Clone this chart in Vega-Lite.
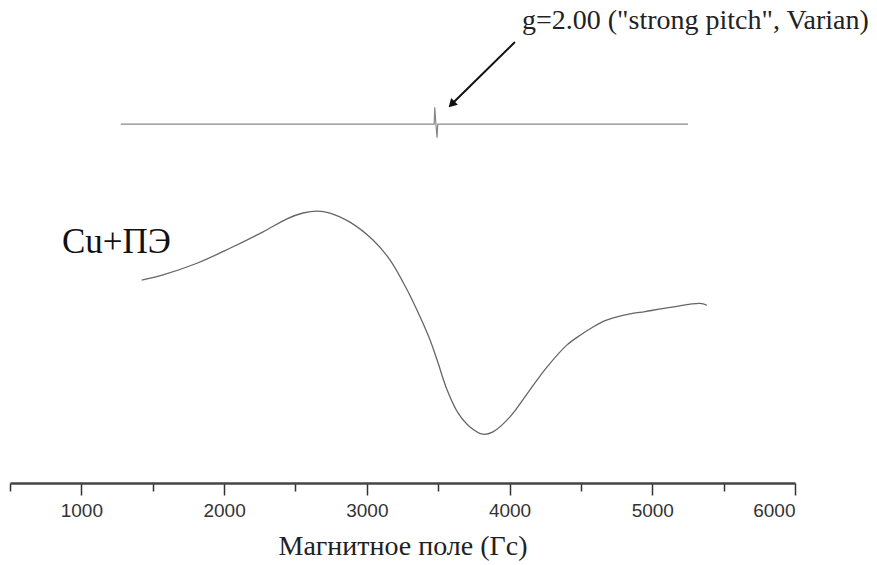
{
  "$schema": "https://vega.github.io/schema/vega-lite/v6.json",
  "width": 785,
  "height": 483,
  "autosize": "none",
  "padding": {"left": 10, "top": 0, "right": 82, "bottom": 82},
  "background": "white",
  "config": {"view": {"stroke": null}},
  "datasets": {
    "curve": [
      {"B": 1423, "v": 42.0}, {"B": 1572, "v": 43.1}, {"B": 1810, "v": 45.5}, {"B": 2041, "v": 48.6},
      {"B": 2273, "v": 52.0}, {"B": 2441, "v": 54.7}, {"B": 2553, "v": 55.9}, {"B": 2651, "v": 56.3},
      {"B": 2742, "v": 55.9}, {"B": 2882, "v": 54.0}, {"B": 3043, "v": 50.3}, {"B": 3162, "v": 46.2},
      {"B": 3282, "v": 40.0}, {"B": 3373, "v": 34.4}, {"B": 3443, "v": 29.6}, {"B": 3492, "v": 25.5},
      {"B": 3562, "v": 19.3}, {"B": 3639, "v": 14.5}, {"B": 3723, "v": 11.6}, {"B": 3814, "v": 10.1},
      {"B": 3884, "v": 10.6}, {"B": 4003, "v": 13.7}, {"B": 4143, "v": 19.3}, {"B": 4262, "v": 24.0},
      {"B": 4403, "v": 28.6}, {"B": 4500, "v": 30.7}, {"B": 4585, "v": 32.3}, {"B": 4669, "v": 33.6},
      {"B": 4753, "v": 34.4}, {"B": 4844, "v": 35.0}, {"B": 4949, "v": 35.5}, {"B": 5138, "v": 36.4},
      {"B": 5334, "v": 37.2}, {"B": 5383, "v": 36.8}
    ],
    "reference": [
      {"B": 1276, "v": 74.3}, {"B": 3472, "v": 74.3}, {"B": 3476, "v": 77.8}, {"B": 3484, "v": 74.3},
      {"B": 3492, "v": 71.5}, {"B": 3497, "v": 74.3}, {"B": 5250, "v": 74.3}
    ],
    "arrow": [{"B": 4038, "v": 91.3, "B2": 3594, "v2": 78.4}],
    "head": [{"B": 3594, "v": 78.4}],
    "labels": [
      {"B": 4087, "v": 94.0, "text": "g=2.00 (\"strong pitch\", Varian)", "kind": "g"},
      {"B": 864, "v": 47.6, "text": "Cu+ПЭ", "kind": "cu"}
    ]
  },
  "encoding": {
    "x": {
      "field": "B", "type": "quantitative",
      "scale": {"domain": [500, 6000], "nice": false, "zero": false},
      "axis": {
        "title": "Магнитное поле (Гс)",
        "titleFont": "Liberation Serif", "titleFontSize": 28, "titleFontWeight": "normal",
        "titleColor": "#222", "titlePadding": 12,
        "values": [500, 1000, 1500, 2000, 2500, 3000, 3500, 4000, 4500, 5000, 5500, 6000],
        "labelExpr": "datum.value % 1000 === 0 ? datum.label : ''",
        "format": "d",
        "labelFont": "Liberation Sans", "labelFontSize": 19, "labelColor": "#333",
        "labelPadding": 6,
        "tickSize": {"condition": {"test": "datum.value % 1000 === 0", "value": 12}, "value": 8},
        "tickColor": "#333", "tickWidth": 1.5,
        "domainColor": "#444", "domainWidth": 2.5,
        "grid": false
      }
    },
    "y": {"field": "v", "type": "quantitative", "scale": {"domain": [0, 100]}, "axis": null}
  },
  "layer": [
    {"data": {"name": "reference"}, "mark": {"type": "line", "color": "#888", "strokeWidth": 1.2}},
    {"data": {"name": "curve"}, "mark": {"type": "line", "color": "#666", "strokeWidth": 1.3, "interpolate": "catmull-rom"}},
    {"data": {"name": "arrow"}, "mark": {"type": "rule", "color": "#111", "strokeWidth": 2},
     "encoding": {"x2": {"field": "B2"}, "y2": {"field": "v2"}}},
    {"data": {"name": "head"}, "mark": {"type": "point", "shape": "triangle-up", "filled": true, "color": "#111", "size": 90, "angle": 225, "opacity": 1}},
    {"data": {"name": "labels"}, "transform": [{"filter": "datum.kind === 'g'"}],
     "mark": {"type": "text", "align": "left", "baseline": "alphabetic", "font": "Liberation Serif", "fontSize": 28, "color": "#222"},
     "encoding": {"text": {"field": "text"}}},
    {"data": {"name": "labels"}, "transform": [{"filter": "datum.kind === 'cu'"}],
     "mark": {"type": "text", "align": "left", "baseline": "alphabetic", "font": "Liberation Serif", "fontSize": 35, "color": "#111"},
     "encoding": {"text": {"field": "text"}}}
  ]
}
